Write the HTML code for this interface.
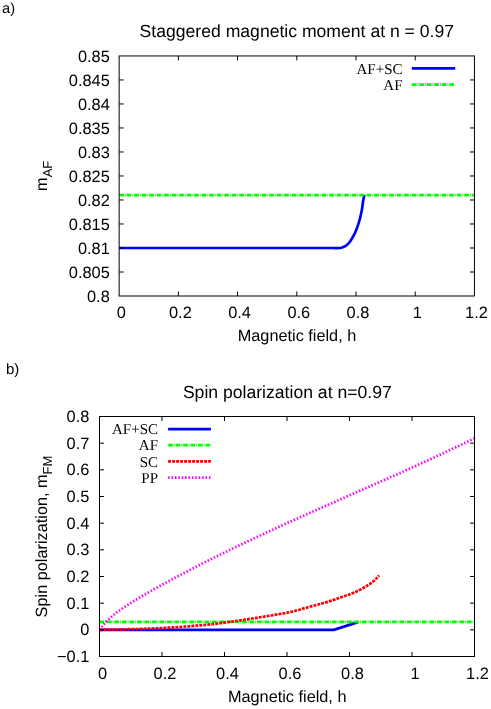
<!DOCTYPE html>
<html><head><meta charset="utf-8"><title>chart</title>
<style>html,body{margin:0;padding:0;background:#fff}svg{display:block;will-change:transform;text-rendering:geometricPrecision}</style></head>
<body>
<svg width="491" height="709" viewBox="0 0 491 709">
<rect width="100%" height="100%" fill="#fff"/>
<g font-family="'Liberation Sans', sans-serif" fill="#000">
<text x="2.1" y="13.2" font-size="14.6">a)</text>
<text x="5.9" y="373.9" font-size="15">b)</text>
<text x="296.8" y="37.2" font-size="17.6" text-anchor="middle">Staggered magnetic moment at n = 0.97</text>
<text x="287.3" y="397.6" font-size="17.6" text-anchor="middle">Spin polarization at n=0.97</text>
<text x="297" y="341.3" font-size="16.3" text-anchor="middle">Magnetic field, h</text>
<text x="287.2" y="702" font-size="16.3" text-anchor="middle">Magnetic field, h</text>
<text transform="translate(46.8,175.8) rotate(-90)" font-size="16.3" text-anchor="middle">m<tspan font-size="13.0" dy="5">AF</tspan></text>
<text transform="translate(47.4,536.5) rotate(-90)" font-size="16.3" text-anchor="middle">Spin polarization, m<tspan font-size="13.0" dy="5">FM</tspan></text>
<text x="109.8" y="301.6" font-size="16.4" text-anchor="end">0.8</text>
<text x="109.8" y="277.6" font-size="16.4" text-anchor="end">0.805</text>
<text x="109.8" y="253.6" font-size="16.4" text-anchor="end">0.81</text>
<text x="109.8" y="229.6" font-size="16.4" text-anchor="end">0.815</text>
<text x="109.8" y="205.6" font-size="16.4" text-anchor="end">0.82</text>
<text x="109.8" y="181.6" font-size="16.4" text-anchor="end">0.825</text>
<text x="109.8" y="157.6" font-size="16.4" text-anchor="end">0.83</text>
<text x="109.8" y="133.6" font-size="16.4" text-anchor="end">0.835</text>
<text x="109.8" y="109.6" font-size="16.4" text-anchor="end">0.84</text>
<text x="109.8" y="85.6" font-size="16.4" text-anchor="end">0.845</text>
<text x="109.8" y="61.5" font-size="16.4" text-anchor="end">0.85</text>
<text x="121.2" y="317.8" font-size="16.4" text-anchor="middle">0</text>
<text x="180.4" y="317.8" font-size="16.4" text-anchor="middle">0.2</text>
<text x="239.6" y="317.8" font-size="16.4" text-anchor="middle">0.4</text>
<text x="298.8" y="317.8" font-size="16.4" text-anchor="middle">0.6</text>
<text x="358.0" y="317.8" font-size="16.4" text-anchor="middle">0.8</text>
<text x="417.2" y="317.8" font-size="16.4" text-anchor="middle">1</text>
<text x="476.5" y="317.8" font-size="16.4" text-anchor="middle">1.2</text>
<text x="89.4" y="662.1" font-size="16.4" text-anchor="end">−0.1</text>
<text x="89.4" y="635.4" font-size="16.4" text-anchor="end">0</text>
<text x="89.4" y="608.8" font-size="16.4" text-anchor="end">0.1</text>
<text x="89.4" y="582.1" font-size="16.4" text-anchor="end">0.2</text>
<text x="89.4" y="555.4" font-size="16.4" text-anchor="end">0.3</text>
<text x="89.4" y="528.8" font-size="16.4" text-anchor="end">0.4</text>
<text x="89.4" y="502.1" font-size="16.4" text-anchor="end">0.5</text>
<text x="89.4" y="475.4" font-size="16.4" text-anchor="end">0.6</text>
<text x="89.4" y="448.8" font-size="16.4" text-anchor="end">0.7</text>
<text x="89.4" y="422.1" font-size="16.4" text-anchor="end">0.8</text>
<text x="102.5" y="678.6" font-size="16.4" text-anchor="middle">0</text>
<text x="165.0" y="678.6" font-size="16.4" text-anchor="middle">0.2</text>
<text x="227.5" y="678.6" font-size="16.4" text-anchor="middle">0.4</text>
<text x="290.0" y="678.6" font-size="16.4" text-anchor="middle">0.6</text>
<text x="352.5" y="678.6" font-size="16.4" text-anchor="middle">0.8</text>
<text x="415.0" y="678.6" font-size="16.4" text-anchor="middle">1</text>
<text x="477.5" y="678.6" font-size="16.4" text-anchor="middle">1.2</text>
</g>
<g font-family="'Liberation Serif', serif" font-size="15.0" fill="#000" text-anchor="end">
<text x="402.5" y="73.6">AF+SC</text>
<text x="402.5" y="89.7">AF</text>
<text x="158.0" y="434.2">AF+SC</text>
<text x="158.0" y="450.3">AF</text>
<text x="158.0" y="466.5">SC</text>
<text x="158.0" y="482.6">PP</text>
</g>
<defs><clipPath id="ca"><rect x="119.15" y="55.95" width="355.80" height="240.05"/></clipPath><clipPath id="cb"><rect x="99.50" y="416.50" width="375.50" height="240.00"/></clipPath></defs>
<g fill="none" stroke-width="2.7">
<g clip-path="url(#ca)">
<path d="M119.15 247.99 L330.00 247.99 L330.00 247.99 C331.70 247.99 338.08 248.12 340.20 247.99 C342.32 247.86 341.85 247.51 342.70 247.20 C343.55 246.88 344.45 246.62 345.30 246.10 C346.15 245.58 346.95 244.95 347.80 244.10 C348.65 243.25 349.55 242.20 350.40 241.00 C351.25 239.80 352.05 238.43 352.90 236.90 C353.75 235.37 354.57 234.02 355.50 231.80 C356.43 229.58 357.67 226.15 358.50 223.60 C359.33 221.05 359.90 219.03 360.50 216.50 C361.10 213.97 361.67 210.95 362.10 208.40 C362.53 205.85 362.77 203.22 363.10 201.20 C363.43 199.18 363.90 197.33 364.10 196.30 C364.30 195.27 364.27 195.22 364.30 195.00" stroke="#0000ff" stroke-linejoin="round"/>
<path d="M119.2 195.2H474.4" stroke="#00ff00" stroke-dasharray="4.7 1 0.8 1"/>
</g>
<path d="M411.8 68.4H455.2" stroke="#0000ff"/>
<path d="M411.8 84.6H455.2" stroke="#00ff00" stroke-dasharray="4.7 1 0.8 1"/>
<g clip-path="url(#cb)">
<path d="M99.5 629.8H333.9L357.9 622.1" stroke="#0000ff"/>
<path d="M99.5 621.8H474.5" stroke="#00ff00" stroke-dasharray="4.7 1 0.8 1"/>
<path d="M99.5 629.8 L101.8 629.8 L104.2 629.7 L106.5 629.7 L108.9 629.7 L111.2 629.6 L113.6 629.6 L115.9 629.5 L118.3 629.5 L120.6 629.4 L123.0 629.3 L125.3 629.3 L127.7 629.2 L130.0 629.2 L132.4 629.1 L134.7 629.1 L137.1 629.0 L139.4 628.9 L141.8 628.8 L144.1 628.8 L146.5 628.7 L148.8 628.6 L151.2 628.5 L153.5 628.4 L155.9 628.3 L158.2 628.2 L160.6 628.1 L162.9 628.0 L165.3 627.8 L167.6 627.7 L170.0 627.6 L172.3 627.4 L174.7 627.3 L177.0 627.2 L179.4 627.0 L181.7 626.8 L184.1 626.7 L186.4 626.5 L188.8 626.3 L191.1 626.1 L193.5 625.9 L195.8 625.7 L198.2 625.5 L200.5 625.3 L202.9 625.1 L205.2 624.9 L207.6 624.7 L209.9 624.4 L212.3 624.2 L214.6 623.9 L217.0 623.6 L219.3 623.3 L221.7 623.0 L224.0 622.7 L226.4 622.4 L228.7 622.0 L231.1 621.7 L233.4 621.4 L235.8 621.0 L238.1 620.7 L240.5 620.3 L242.8 620.0 L245.2 619.6 L247.5 619.3 L249.9 618.9 L252.2 618.5 L254.6 618.2 L256.9 617.8 L259.3 617.4 L261.6 617.0 L264.0 616.7 L266.3 616.3 L268.7 615.9 L271.0 615.5 L273.4 615.1 L275.7 614.7 L278.1 614.3 L280.4 613.9 L282.8 613.5 L285.1 613.1 L287.5 612.6 L289.8 612.1 L292.2 611.6 L294.5 611.0 L296.9 610.3 L299.2 609.7 L301.6 609.0 L303.9 608.3 L306.3 607.7 L308.6 607.1 L311.0 606.4 L313.3 605.8 L315.7 605.2 L318.0 604.5 L320.4 603.9 L322.7 603.2 L325.1 602.6 L327.4 601.9 L329.8 601.1 L332.1 600.4 L334.5 599.6 L336.8 598.8 L339.2 598.0 L341.5 597.2 L343.9 596.4 L346.2 595.6 L348.5 594.7 L350.9 593.8 L353.2 592.9 L355.6 591.9 L357.9 590.8 L360.3 589.6 L362.6 588.4 L365.0 587.0 L367.3 585.6 L369.7 584.1 L372.0 582.4 L374.4 580.5 L376.7 578.2 L379.1 575.3" stroke="#ff0000" stroke-dasharray="2.9 1.1"/>
<path d="M99.5 629.8 L100.6 628.4 L101.7 627.0 L102.7 625.6 L103.8 624.4 L104.9 623.2 L106.0 622.0 L107.0 620.9 L108.1 619.9 L109.2 618.8 L110.3 617.9 L111.4 616.9 L112.4 616.0 L113.5 615.1 L114.6 614.2 L115.7 613.4 L116.7 612.5 L117.8 611.7 L118.9 610.9 L120.0 610.2 L121.1 609.4 L122.1 608.6 L123.2 607.9 L124.3 607.2 L125.4 606.5 L126.4 605.8 L127.5 605.1 L128.6 604.4 L129.7 603.7 L130.8 603.0 L134.6 600.6 L138.5 598.3 L142.3 596.0 L146.2 593.7 L150.1 591.5 L153.9 589.3 L157.8 587.2 L161.6 585.0 L165.5 582.9 L169.4 580.8 L173.2 578.7 L177.1 576.7 L181.0 574.6 L184.8 572.6 L188.7 570.6 L192.5 568.6 L196.4 566.6 L200.3 564.6 L204.1 562.6 L208.0 560.7 L211.9 558.8 L215.7 556.8 L219.6 554.9 L223.4 553.0 L227.3 551.2 L231.2 549.3 L235.0 547.4 L238.9 545.6 L242.8 543.7 L246.6 541.9 L250.5 540.1 L254.3 538.2 L258.2 536.4 L262.1 534.6 L265.9 532.8 L269.8 531.1 L273.7 529.3 L277.5 527.5 L281.4 525.7 L285.2 524.0 L289.1 522.2 L293.0 520.5 L296.8 518.8 L300.7 517.0 L304.6 515.3 L308.4 513.6 L312.3 511.8 L316.1 510.1 L320.0 508.4 L323.9 506.7 L327.7 505.0 L331.6 503.3 L335.5 501.6 L339.3 499.9 L343.2 498.1 L347.0 496.4 L350.9 494.7 L354.8 493.0 L358.6 491.3 L362.5 489.6 L366.4 487.9 L370.2 486.2 L374.1 484.5 L377.9 482.8 L381.8 481.1 L385.7 479.4 L389.5 477.6 L393.4 475.9 L397.3 474.2 L401.1 472.5 L405.0 470.7 L408.8 469.0 L412.7 467.2 L416.6 465.5 L420.4 463.7 L424.3 462.0 L428.2 460.2 L432.0 458.4 L435.9 456.6 L439.7 454.9 L443.6 453.1 L447.5 451.2 L451.3 449.4 L455.2 447.6 L459.1 445.8 L462.9 443.9 L466.8 442.1 L470.6 440.2 L474.5 438.3" stroke="#ff00ff" stroke-dasharray="1.5 1.9"/>
</g>
<path d="M168.1 429.1H210.9" stroke="#0000ff"/>
<path d="M168.1 445.2H210.9" stroke="#00ff00" stroke-dasharray="4.7 1 0.8 1"/>
<path d="M168.1 461.4H210.9" stroke="#ff0000" stroke-dasharray="2.9 1.1"/>
<path d="M168.1 477.6H210.9" stroke="#ff00ff" stroke-dasharray="1.5 1.9"/>
</g>
<g stroke="#000" stroke-width="1" fill="none">
<rect x="119.15" y="55.95" width="355.30" height="240.05"/>
<path d="M178.37 296.00v-4.5 M178.37 55.95v4.5 M237.58 296.00v-4.5 M237.58 55.95v4.5 M296.80 296.00v-4.5 M296.80 55.95v4.5 M356.02 296.00v-4.5 M356.02 55.95v4.5 M415.23 296.00v-4.5 M415.23 55.95v4.5 M119.15 272.00h4.5 M474.45 272.00h-4.5 M119.15 247.99h4.5 M474.45 247.99h-4.5 M119.15 223.98h4.5 M474.45 223.98h-4.5 M119.15 199.98h4.5 M474.45 199.98h-4.5 M119.15 175.97h4.5 M474.45 175.97h-4.5 M119.15 151.97h4.5 M474.45 151.97h-4.5 M119.15 127.96h4.5 M474.45 127.96h-4.5 M119.15 103.96h4.5 M474.45 103.96h-4.5 M119.15 79.95h4.5 M474.45 79.95h-4.5 "/>
<rect x="99.50" y="416.50" width="375.00" height="240.00"/>
<path d="M162.00 656.50v-4.5 M162.00 416.50v4.5 M224.50 656.50v-4.5 M224.50 416.50v4.5 M287.00 656.50v-4.5 M287.00 416.50v4.5 M349.50 656.50v-4.5 M349.50 416.50v4.5 M412.00 656.50v-4.5 M412.00 416.50v4.5 M99.50 629.83h4.5 M474.50 629.83h-4.5 M99.50 603.17h4.5 M474.50 603.17h-4.5 M99.50 576.50h4.5 M474.50 576.50h-4.5 M99.50 549.83h4.5 M474.50 549.83h-4.5 M99.50 523.17h4.5 M474.50 523.17h-4.5 M99.50 496.50h4.5 M474.50 496.50h-4.5 M99.50 469.83h4.5 M474.50 469.83h-4.5 M99.50 443.17h4.5 M474.50 443.17h-4.5 "/>
</g>
</svg>
</body></html>
